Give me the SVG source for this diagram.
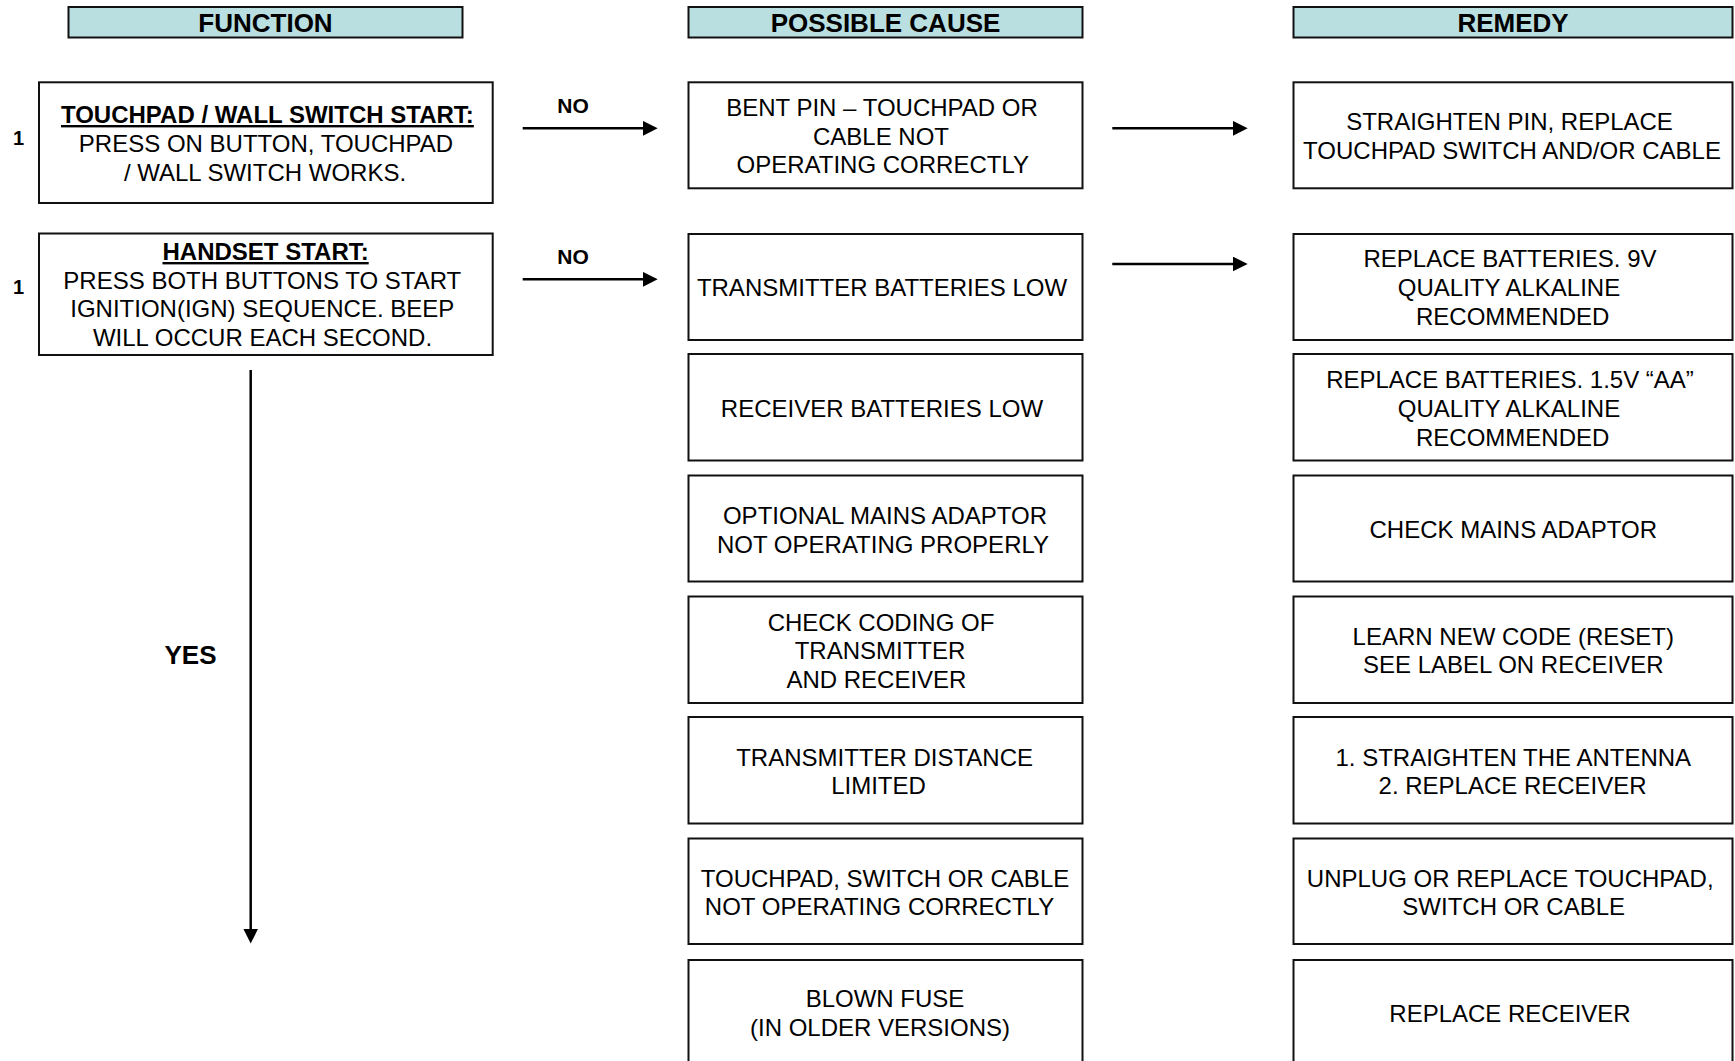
<svg xmlns="http://www.w3.org/2000/svg" width="1735" height="1061" viewBox="0 0 1735 1061">
<style>
  .hdr { fill: #B9DFE1; stroke: #111; stroke-width: 2; }
  .box { fill: #fff; stroke: #111; stroke-width: 2; }
  text { font-family: "Liberation Sans", Arial, sans-serif; fill: #000; text-anchor: middle; }
  .t { font-size: 24px; }
  .h { font-size: 26px; font-weight: bold; }
  .lbl { font-size: 21px; font-weight: bold; }
  .num { font-size: 20px; font-weight: bold; }
  .u { font-weight: bold; text-decoration: underline; }
  .conn { stroke: #000; stroke-width: 2.5; fill: none; marker-end: url(#ah); }
</style>
<defs>
  <marker id="ah" markerUnits="userSpaceOnUse" markerWidth="15" markerHeight="15" refX="5" refY="7.5" orient="auto">
    <path d="M0,0 L15,7.5 L0,15 Z" fill="#000"/>
  </marker>
</defs>
<rect width="1735" height="1061" fill="#fff"/>

<g id="headers">
  <g id="hdr-function">
    <rect class="hdr" x="68.5" y="7" width="394" height="30.5"/>
    <text class="h" x="265.5" y="32">FUNCTION</text>
  </g>
  <g id="hdr-cause">
    <rect class="hdr" x="688.5" y="7" width="394" height="30.5"/>
    <text class="h" x="885.5" y="32">POSSIBLE CAUSE</text>
  </g>
  <g id="hdr-remedy">
    <rect class="hdr" x="1293.5" y="7" width="439" height="30.5"/>
    <text class="h" x="1513" y="32">REMEDY</text>
  </g>
</g>

<g id="connectors">
  <line class="conn" x1="522.7" y1="128.3" x2="647.7" y2="128.3"/>
  <line class="conn" x1="522.7" y1="279.3" x2="647.7" y2="279.3"/>
  <line class="conn" x1="1112.3" y1="128.3" x2="1237.7" y2="128.3"/>
  <line class="conn" x1="1112.3" y1="264" x2="1237.7" y2="264"/>
  <line class="conn" x1="250.7" y1="370" x2="250.7" y2="933.5"/>
  <text class="lbl" x="573" y="113.3">NO</text>
  <text class="lbl" x="573" y="264.3">NO</text>
  <text class="h" x="190.5" y="663.5">YES</text>
</g>

<g id="fn-touchpad">
  <text class="num" x="18.5" y="145">1</text>
  <rect class="box" x="39" y="82.3" width="453.7" height="120.7"/>
  <text class="t u" x="267.4" y="123">TOUCHPAD / WALL SWITCH START:</text>
  <text class="t" x="266" y="151.7">PRESS ON BUTTON, TOUCHPAD</text>
  <text class="t" x="265" y="180.5">/ WALL SWITCH WORKS.</text>
</g>
<g id="fn-handset">
  <text class="num" x="18.5" y="294">1</text>
  <rect class="box" x="39" y="233.5" width="453.7" height="121.5"/>
  <text class="t u" x="265.6" y="260">HANDSET START:</text>
  <text class="t" x="262.3" y="288.7">PRESS BOTH BUTTONS TO START</text>
  <text class="t" x="262.3" y="317.4">IGNITION(IGN) SEQUENCE. BEEP</text>
  <text class="t" x="262.5" y="346">WILL OCCUR EACH SECOND.</text>
</g>

<g id="cause-1">
  <rect class="box" x="688.5" y="82.3" width="394" height="106"/>
  <text class="t" x="882" y="116">BENT PIN – TOUCHPAD OR</text>
  <text class="t" x="881" y="144.5">CABLE NOT</text>
  <text class="t" x="882.8" y="173">OPERATING CORRECTLY</text>
</g>
<g id="cause-2">
  <rect class="box" x="688.5" y="234" width="394" height="106"/>
  <text class="t" x="882" y="295.5">TRANSMITTER BATTERIES LOW</text>
</g>
<g id="cause-3">
  <rect class="box" x="688.5" y="354" width="394" height="106.5"/>
  <text class="t" x="882" y="417">RECEIVER BATTERIES LOW</text>
</g>
<g id="cause-4">
  <rect class="box" x="688.5" y="475.5" width="394" height="106"/>
  <text class="t" x="885" y="524">OPTIONAL MAINS ADAPTOR</text>
  <text class="t" x="883" y="552.5">NOT OPERATING PROPERLY</text>
</g>
<g id="cause-5">
  <rect class="box" x="688.5" y="596.5" width="394" height="106.5"/>
  <text class="t" x="881" y="630.5">CHECK CODING OF</text>
  <text class="t" x="880" y="659">TRANSMITTER</text>
  <text class="t" x="876.4" y="688">AND RECEIVER</text>
</g>
<g id="cause-6">
  <rect class="box" x="688.5" y="717" width="394" height="106.5"/>
  <text class="t" x="884.6" y="765.5">TRANSMITTER DISTANCE</text>
  <text class="t" x="878.5" y="794">LIMITED</text>
</g>
<g id="cause-7">
  <rect class="box" x="688.5" y="838.5" width="394" height="105.5"/>
  <text class="t" x="885" y="886.5">TOUCHPAD, SWITCH OR CABLE</text>
  <text class="t" x="879.5" y="915">NOT OPERATING CORRECTLY</text>
</g>
<g id="cause-8">
  <rect class="box" x="688.5" y="960" width="394" height="106"/>
  <text class="t" x="885" y="1007">BLOWN FUSE</text>
  <text class="t" x="880" y="1036">(IN OLDER VERSIONS)</text>
</g>

<g id="remedy-1">
  <rect class="box" x="1293.5" y="82.3" width="439" height="106"/>
  <text class="t" x="1509.5" y="129.5">STRAIGHTEN PIN, REPLACE</text>
  <text class="t" x="1512" y="158.5">TOUCHPAD SWITCH AND/OR CABLE</text>
</g>
<g id="remedy-2">
  <rect class="box" x="1293.5" y="234" width="439" height="106"/>
  <text class="t" x="1510" y="267">REPLACE BATTERIES. 9V</text>
  <text class="t" x="1509" y="295.5">QUALITY ALKALINE</text>
  <text class="t" x="1512.7" y="324.5">RECOMMENDED</text>
</g>
<g id="remedy-3">
  <rect class="box" x="1293.5" y="354" width="439" height="106.5"/>
  <text class="t" x="1510" y="388">REPLACE BATTERIES. 1.5V “AA”</text>
  <text class="t" x="1509" y="417">QUALITY ALKALINE</text>
  <text class="t" x="1512.7" y="446">RECOMMENDED</text>
</g>
<g id="remedy-4">
  <rect class="box" x="1293.5" y="475.5" width="439" height="106"/>
  <text class="t" x="1513.3" y="537.5">CHECK MAINS ADAPTOR</text>
</g>
<g id="remedy-5">
  <rect class="box" x="1293.5" y="596.5" width="439" height="106.5"/>
  <text class="t" x="1513.3" y="644.5">LEARN NEW CODE (RESET)</text>
  <text class="t" x="1513.3" y="673.3">SEE LABEL ON RECEIVER</text>
</g>
<g id="remedy-6">
  <rect class="box" x="1293.5" y="717" width="439" height="106.5"/>
  <text class="t" x="1513.3" y="765.5">1. STRAIGHTEN THE ANTENNA</text>
  <text class="t" x="1512.6" y="794">2. REPLACE RECEIVER</text>
</g>
<g id="remedy-7">
  <rect class="box" x="1293.5" y="838.5" width="439" height="105.5"/>
  <text class="t" x="1510.2" y="886.5">UNPLUG OR REPLACE TOUCHPAD,</text>
  <text class="t" x="1513.7" y="915">SWITCH OR CABLE</text>
</g>
<g id="remedy-8">
  <rect class="box" x="1293.5" y="960" width="439" height="106"/>
  <text class="t" x="1510" y="1022">REPLACE RECEIVER</text>
</g>
</svg>
